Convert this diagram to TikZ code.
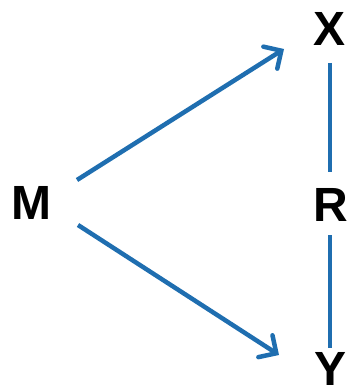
\documentclass[tikz,border=0pt]{standalone}
\usepackage{fontspec}
\setmainfont{Liberation Sans}
\usetikzlibrary{arrows.meta}
\definecolor{linkblue}{RGB}{31,110,176}
\tikzset{
  var/.style={inner sep=0pt, font=\fontsize{48}{48}\selectfont\bfseries},
  link/.style={linkblue, line width=4.5pt},
  arrowlink/.style={link, -{Straight Barb[length=13pt, width=26pt, line cap=round]}}
}
\begin{document}
\begin{tikzpicture}[x=1pt, y=-1pt]
				\useasboundingbox (0,0) rectangle (352,387);
				% variables
				\node[var] (M) at (31,203) {M};
				\node[var] (X) at (330,29) {X};
				\node[var] (R) at (331,205) {R};
				\node[var] (Y) at (331,369) {Y};

				% arrows out of M
				\draw[arrowlink] ([shift={(46,-23)}]M.center) -- ([shift={(-46,20)}]X.center);
				\draw[arrowlink] ([shift={(47,22)}]M.center) -- ([shift={(-52,-14)}]Y.center);

				% lines through R
				\draw[link] ([shift={(0,34)}]X.center) -- ([shift={(-1,-33)}]R.center);
				\draw[link] ([shift={(-1,30)}]R.center) -- ([shift={(-1,-21)}]Y.center);
\end{tikzpicture}
\end{document}
